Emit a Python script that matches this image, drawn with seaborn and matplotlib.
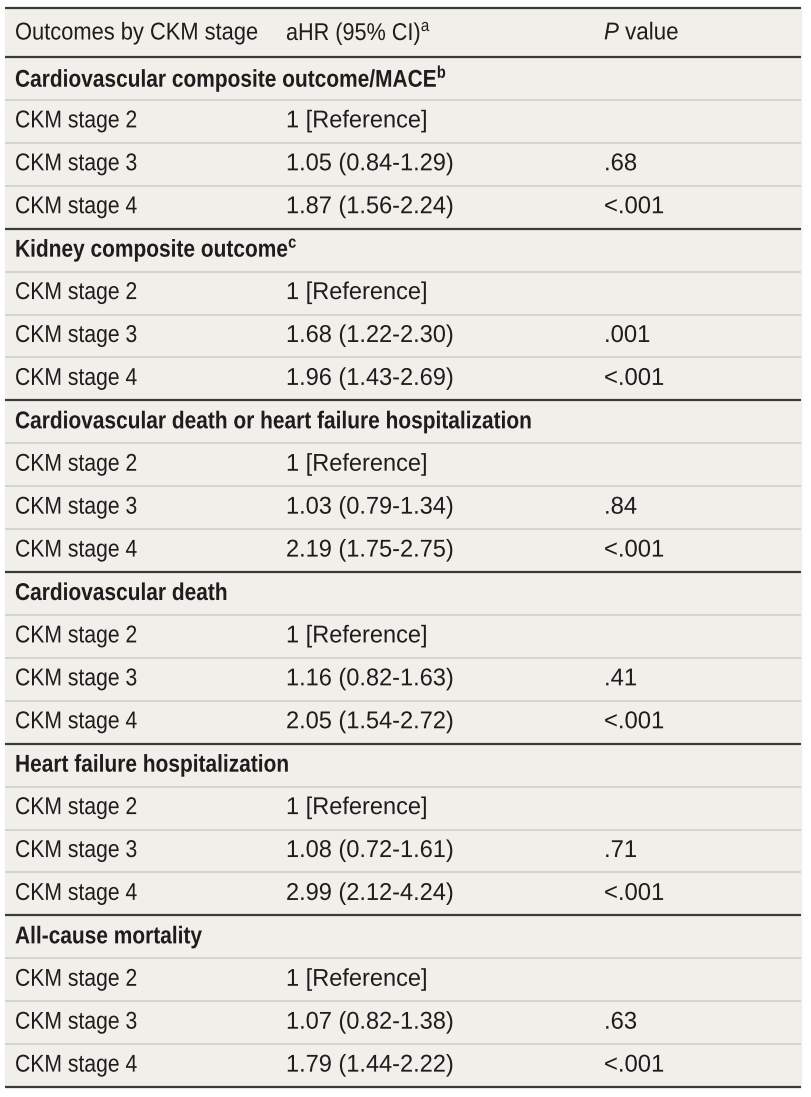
import matplotlib
matplotlib.use("Agg")
import matplotlib.pyplot as plt
import seaborn as sns
from matplotlib.patheffects import AbstractPathEffect
from matplotlib.transforms import Affine2D

# table content
headers = ["Outcomes by CKM stage", "aHR (95% CI)", "P value"]
header_notes = ["", "a", ""]
sections = [
    "Cardiovascular composite outcome/MACE",
    "Kidney composite outcome",
    "Cardiovascular death or heart failure hospitalization",
    "Cardiovascular death",
    "Heart failure hospitalization",
    "All-cause mortality",
]
section_notes = ["b", "c", "", "", "", ""]
stages = ["CKM stage 2", "CKM stage 3", "CKM stage 4"]
ahr = [
    ["1 [Reference]", "1.05 (0.84-1.29)", "1.87 (1.56-2.24)"],
    ["1 [Reference]", "1.68 (1.22-2.30)", "1.96 (1.43-2.69)"],
    ["1 [Reference]", "1.03 (0.79-1.34)", "2.19 (1.75-2.75)"],
    ["1 [Reference]", "1.16 (0.82-1.63)", "2.05 (1.54-2.72)"],
    ["1 [Reference]", "1.08 (0.72-1.61)", "2.99 (2.12-4.24)"],
    ["1 [Reference]", "1.07 (0.82-1.38)", "1.79 (1.44-2.22)"],
]
pvals = [
    ["", ".68", "<.001"],
    ["", ".001", "<.001"],
    ["", ".84", "<.001"],
    ["", ".41", "<.001"],
    ["", ".71", "<.001"],
    ["", ".63", "<.001"],
]


class Condense(AbstractPathEffect):
    # squeeze glyphs horizontally around the text's left edge
    def __init__(self, x0, sx):
        super().__init__()
        self.x0, self.sx = x0, sx

    def draw_path(self, renderer, gc, tpath, affine, rgbFace=None):
        squeeze = Affine2D().translate(-self.x0, 0).scale(self.sx, 1).translate(self.x0, 0)
        renderer.draw_path(gc, tpath, affine + squeeze, rgbFace)


sns.set_theme(style="white")
plt.rcParams["font.family"] = ["Liberation Sans", "DejaVu Sans"]
plt.rcParams["mathtext.fontset"] = "custom"
plt.rcParams["mathtext.rm"] = "Liberation Sans"
plt.rcParams["mathtext.it"] = "Liberation Sans:italic"
plt.rcParams["mathtext.bf"] = "Liberation Sans:bold"

W, H = 811, 1097
fig = plt.figure(figsize=(W / 100, H / 100), dpi=100)
ax = fig.add_axes([0, 0, 1, 1])
ax.set_xlim(0, W)
ax.set_ylim(H, 0)
ax.axis("off")

bg = "#f0efe9"
ink = "#1e1c1d"
fs = 17.5

top, head_bottom, rh = 8, 57, 42.92
n_rows = len(sections) * 4
bottom = head_bottom + n_rows * rh
ax.fill_between([5, 801], top, bottom, color=bg, zorder=0)

col_x = [15, 286, 604]


def put(x, y, s, sx=1.0, **kw):
    x0 = ax.transData.transform((x, 0))[0]
    ax.text(x, y, s, fontsize=fs, color=ink, va="center",
            path_effects=[Condense(x0, sx)], **kw)


def with_note(s, note, bold=False):
    if not note:
        return s
    return s + (r"$^{\mathbf{%s}}$" if bold else r"$^{\mathrm{%s}}$") % note


# header row
hy = (top + head_bottom) / 2 + 1
put(col_x[0], hy, with_note(headers[0], header_notes[0]), sx=0.9)
put(col_x[1], hy, with_note(headers[1], header_notes[1]), sx=0.89)
p_label = r"$\mathit{%s}$ %s" % tuple(headers[2].split(" ", 1))
put(col_x[2], hy, p_label, sx=0.92)

row = 0
for i, sec in enumerate(sections):
    y = head_bottom + (row + 0.5) * rh
    put(col_x[0], y, with_note(sec, section_notes[i], bold=True), sx=0.86, fontweight="bold")
    row += 1
    for j, st in enumerate(stages):
        y = head_bottom + (row + 0.5) * rh
        put(col_x[0], y, st, sx=0.87)
        put(col_x[1], y, ahr[i][j], sx=0.97)
        put(col_x[2], y, pvals[i][j], sx=0.98)
        row += 1

# rules
for k in range(1, n_rows):
    yk = head_bottom + k * rh
    if k % 4 == 0:
        ax.hlines(yk, 5, 801, color="#3a3a3a", lw=1.6, zorder=2)
    else:
        ax.hlines(yk, 5, 801, color="#cfcfcb", lw=1.2, zorder=1)
for yk in [top, head_bottom, bottom]:
    ax.hlines(yk, 5, 801, color="#3a3a3a", lw=1.6, zorder=2)

fig.savefig("out.png", dpi=100, facecolor="white")
